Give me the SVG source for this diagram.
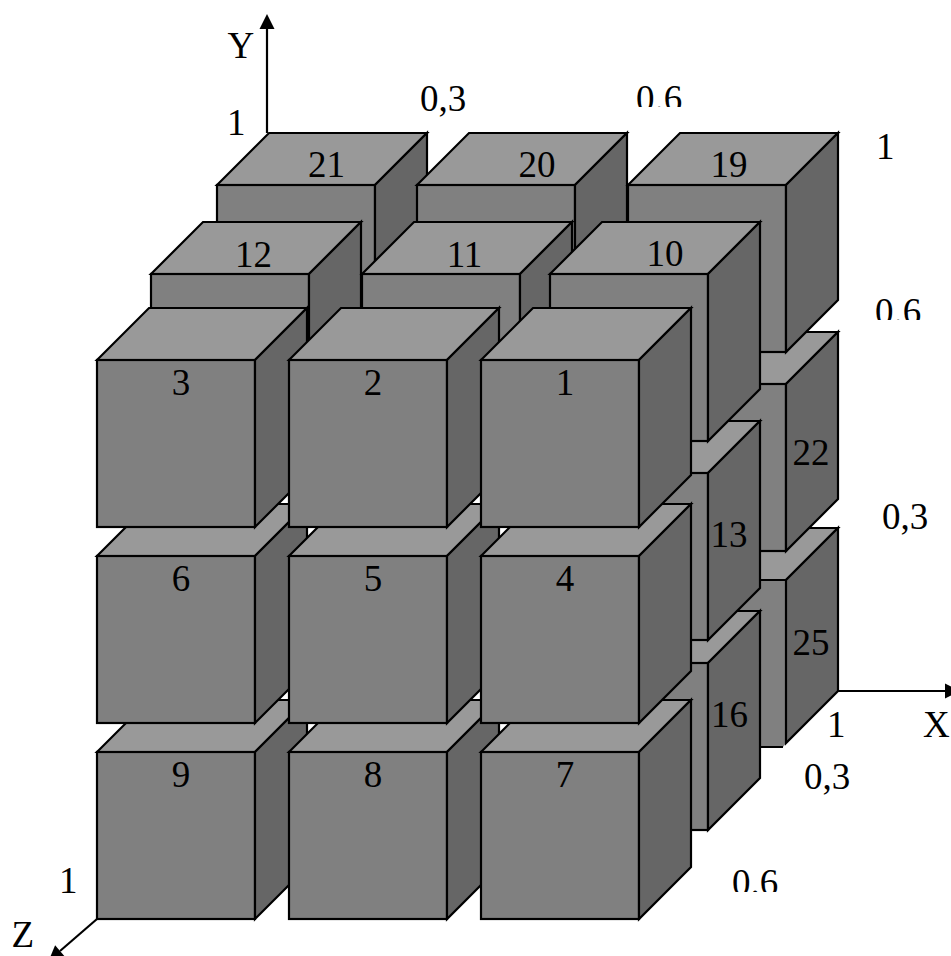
<svg xmlns="http://www.w3.org/2000/svg" width="951" height="956" viewBox="0 0 951 956">
<style>
.t{fill:#999999}.f{fill:#808080}.s{fill:#666666}
.c polygon,.c rect,.c path{stroke:#000;stroke-width:2.2;stroke-linejoin:miter}
.c .nb{stroke:none}
text{font-family:"Liberation Serif","Times New Roman",serif;font-size:37px;fill:#000}
.n{text-anchor:middle}
.a{stroke:#000;stroke-width:2.2;fill:none}
</style>
<defs>
<g id="cube" class="c">
<polygon class="t" points="0,0 52,-52 210,-52 158,0"/>
<rect class="f" x="0" y="0" width="158" height="167"/>
<polygon class="s" points="158,0 210,-52 210,115 158,167"/>
</g>
<marker id="ah" markerUnits="userSpaceOnUse" markerWidth="16" markerHeight="16" refX="0" refY="8" orient="auto" overflow="visible"><polygon points="0,0.5 15,8 0,15.5" fill="#000"/></marker>
<clipPath id="c1"><rect x="620" y="70" width="80" height="37"/></clipPath>
<clipPath id="c2"><rect x="860" y="285" width="80" height="35"/></clipPath>
<clipPath id="c3"><rect x="720" y="860" width="80" height="32"/></clipPath>
</defs>
<rect width="951" height="956" fill="#fff"/>
<g id="connectors">
<path class="a" d="M267,133V29" marker-end="url(#ah)"/>
<path class="a" d="M837,691H945" marker-end="url(#ah)"/>
<path class="a" d="M97,919L60,951" marker-end="url(#ah)"/>
</g>
<g id="n25"><g class="c">
<polygon class="t" points="628,580 680,528 838,528 786,580"/>
<polygon class="f nb" points="628,580 786,580 786,743 783,747 628,747"/>
<path d="M628,747V580H786M628,747H783" fill="none"/>
<polygon class="s" points="786,580 838,528 838,691 786,743"/>
</g><text class="n" x="811" y="655">25</text></g>
<g id="n22"><use href="#cube" x="628" y="384"/><text class="n" x="811" y="465">22</text></g>
<g id="n21"><use href="#cube" x="217" y="185"/><text class="n" x="326.5" y="177">21</text></g>
<g id="n20"><use href="#cube" x="417" y="185"/><text class="n" x="537" y="177">20</text></g>
<g id="n19"><use href="#cube" x="628" y="185"/><text class="n" x="729" y="177">19</text></g>
<g id="n16"><use href="#cube" x="550" y="663"/><text class="n" x="729.5" y="727">16</text></g>
<g id="n13"><use href="#cube" x="550" y="473"/><text class="n" x="729" y="547">13</text></g>
<g id="n12"><use href="#cube" x="151" y="274"/><text class="n" x="253.5" y="267">12</text></g>
<g id="n11"><use href="#cube" x="362" y="274"/><text class="n" x="464.5" y="267">11</text></g>
<g id="n10"><use href="#cube" x="550" y="274"/><text class="n" x="665" y="266">10</text></g>
<g id="n9"><use href="#cube" x="97" y="752"/><text class="n" x="181" y="787">9</text></g>
<g id="n8"><use href="#cube" x="289" y="752"/><text class="n" x="373" y="787">8</text></g>
<g id="n7"><use href="#cube" x="481" y="752"/><text class="n" x="565" y="787">7</text></g>
<g id="n6"><use href="#cube" x="97" y="556"/><text class="n" x="181" y="591">6</text></g>
<g id="n5"><use href="#cube" x="289" y="556"/><text class="n" x="373" y="591">5</text></g>
<g id="n4"><use href="#cube" x="481" y="556"/><text class="n" x="565" y="591">4</text></g>
<g id="n3"><use href="#cube" x="97" y="360"/><text class="n" x="181" y="395">3</text></g>
<g id="n2"><use href="#cube" x="289" y="360"/><text class="n" x="373" y="395">2</text></g>
<g id="n1"><use href="#cube" x="481" y="360"/><text class="n" x="565" y="395">1</text></g>
<g id="labels">
<text x="227.5" y="58">Y</text>
<text x="227" y="135">1</text>
<text x="420" y="111">0,3</text>
<text x="636" y="111" clip-path="url(#c1)">0.6</text>
<text x="876" y="159">1</text>
<text x="875" y="324" clip-path="url(#c2)">0.6</text>
<text x="882" y="529">0,3</text>
<text x="827" y="737">1</text>
<text x="923" y="737">X</text>
<text x="804" y="789">0,3</text>
<text x="732" y="895" clip-path="url(#c3)">0.6</text>
<text x="59" y="893">1</text>
<text x="11.5" y="947">Z</text>
</g>
</svg>
